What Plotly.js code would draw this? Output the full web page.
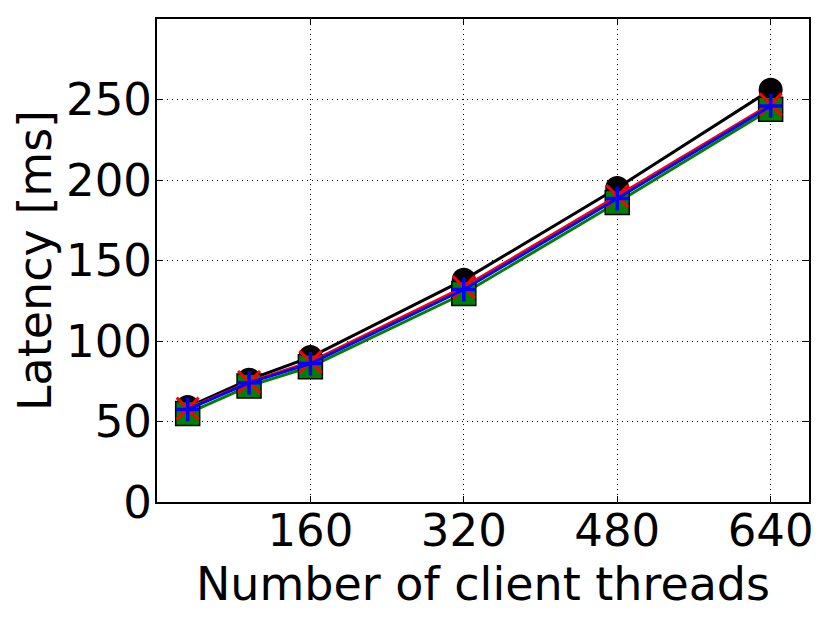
<!DOCTYPE html>
<html>
<head>
<meta charset="utf-8">
<script src="https://cdn.plot.ly/plotly-3.0.1.min.js"></script>
<style>html,body{margin:0;padding:0;background:#fff;}#chart{width:830px;height:623px;}</style>
</head>
<body>
<div id="chart"></div>
<script>
const threads = [32, 96, 160, 320, 480, 640];
const latencyBlack = [59, 76, 90, 138, 195, 256];
const latencyGreen = [55, 72, 84, 129.5, 186, 244];
const latencyRed = [58, 74.5, 87, 133.5, 190, 247];
const latencyBlue = [57.5, 74, 86, 132, 188.5, 246];
const xTickVals = [160, 320, 480, 640];
const yTickVals = [0, 50, 100, 150, 200, 250];

const traces = [
  {x: threads, y: latencyBlack, mode: 'lines+markers', line: {color: '#000', width: 3},
   marker: {symbol: 'circle', size: 24, color: '#000', line: {width: 0}}},
  {x: threads, y: latencyGreen, mode: 'lines+markers', line: {color: '#008000', width: 3},
   marker: {symbol: 'square', size: 24, color: '#008000', line: {color: '#000', width: 1.5}}},
  {x: threads, y: latencyRed, mode: 'lines+markers', line: {color: '#ff0000', width: 3},
   marker: {symbol: 'x-thin', size: 22, color: '#ff0000', line: {color: '#ff0000', width: 3}}},
  {x: threads, y: latencyBlue, mode: 'lines+markers', line: {color: '#0000ff', width: 3},
   marker: {symbol: 'cross-thin', size: 17, color: '#0000ff', line: {color: '#0000ff', width: 3.5}}}
];

const fontFam = 'DejaVu Sans, sans-serif';
const layout = {
  width: 830, height: 623,
  margin: {l: 157, r: 21, t: 19, b: 121},
  paper_bgcolor: '#fff', plot_bgcolor: '#fff',
  showlegend: false,
  font: {family: fontFam, color: '#000', size: 46},
  xaxis: {
    range: [0, 680], tickvals: xTickVals, ticktext: xTickVals.map(String),
    showgrid: true, gridcolor: '#000', gridwidth: 1, griddash: '1px,4px',
    zeroline: false, showline: true, linecolor: '#000', linewidth: 2, mirror: 'allticks',
    ticks: 'inside', ticklen: 6, tickcolor: '#000', tickwidth: 1, ticklabelstandoff: -12,
    tickfont: {family: fontFam, size: 45, color: '#000'},
    title: {text: 'Number of client threads', font: {family: fontFam, size: 46, color: '#000'}, standoff: 0}
  },
  yaxis: {
    range: [0, 300], tickvals: yTickVals, ticktext: yTickVals.map(String),
    showgrid: true, gridcolor: '#000', gridwidth: 1, griddash: '1px,4px',
    zeroline: false, showline: true, linecolor: '#000', linewidth: 2, mirror: 'allticks',
    ticks: 'inside', ticklen: 6, tickcolor: '#000', tickwidth: 1, ticklabelstandoff: -6,
    tickfont: {family: fontFam, size: 45, color: '#000'},
    title: {text: 'Latency [ms]', font: {family: fontFam, size: 46, color: '#000'}, standoff: 0}
  }
};
Plotly.newPlot('chart', traces, layout, {displayModeBar: false, staticPlot: true});
</script>
</body>
</html>
